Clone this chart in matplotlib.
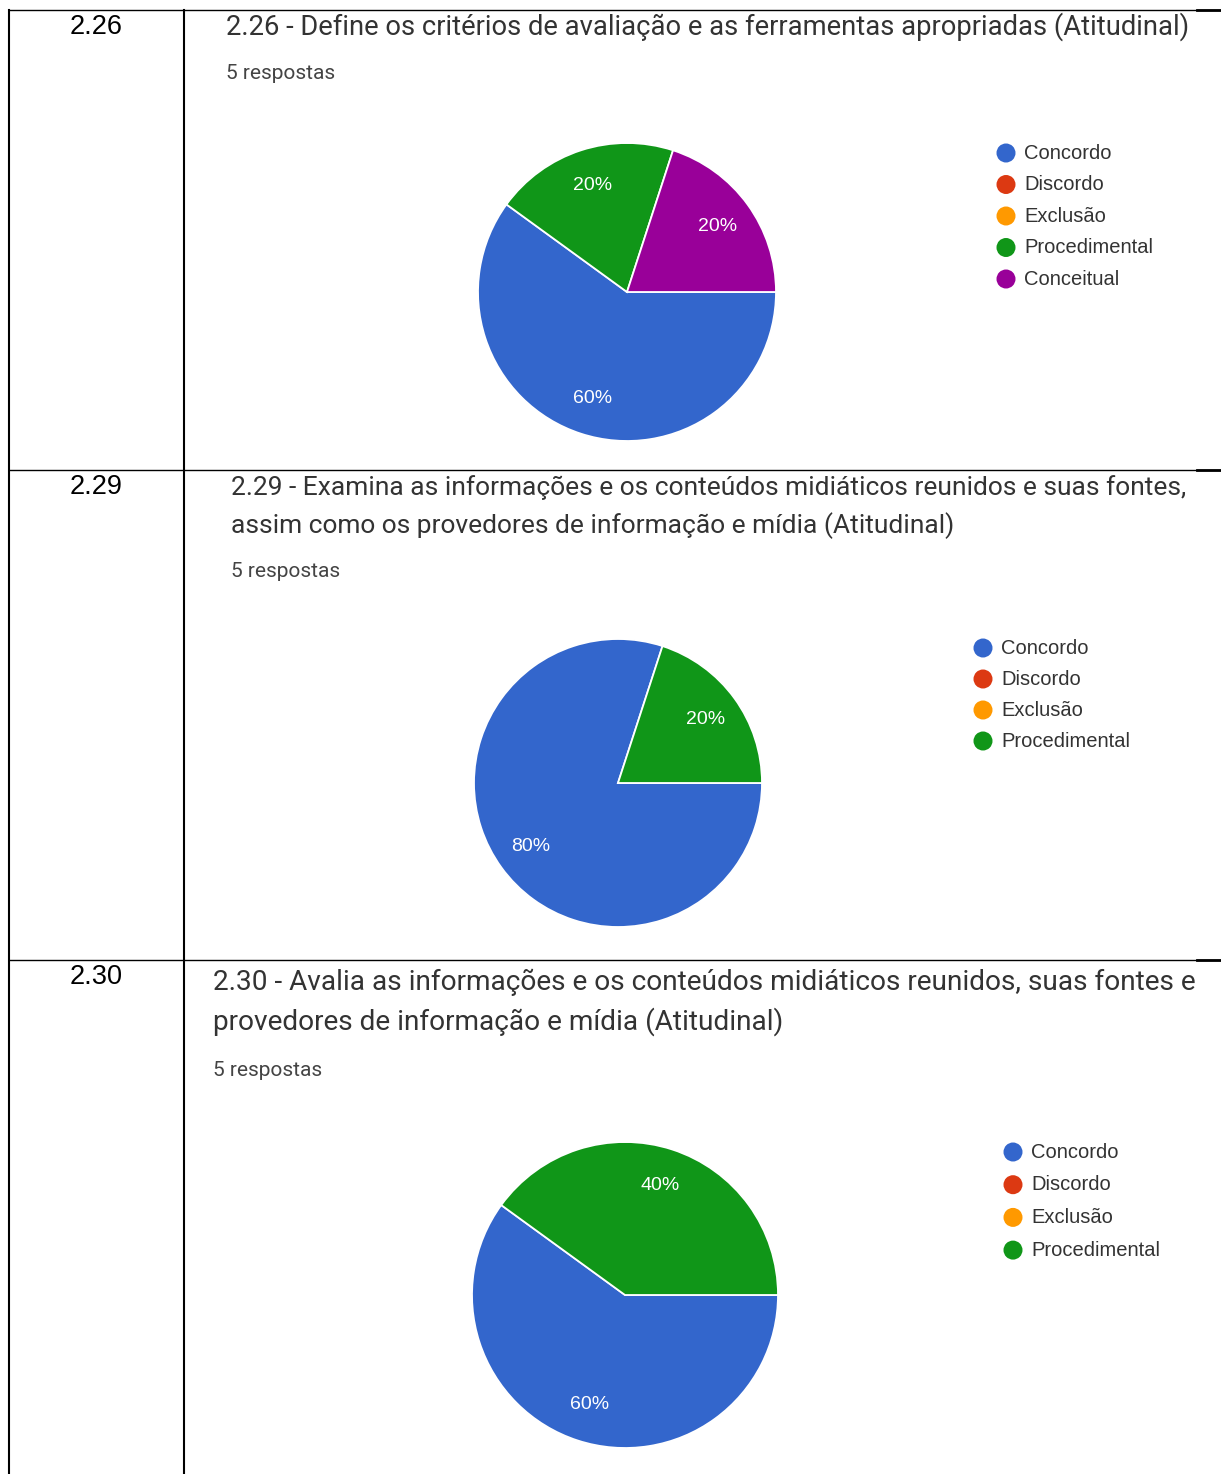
import matplotlib.pyplot as plt
from matplotlib.patches import Circle

W, H = 1221, 1474

categories = ["Concordo", "Discordo", "Exclusão", "Procedimental", "Conceitual"]
palette = ["#3366CC", "#DC3912", "#FF9900", "#109618", "#990099"]

codes = ["2.26", "2.29", "2.30"]
titles = [
    ["2.26 - Define os critérios de avaliação e as ferramentas apropriadas (Atitudinal)"],
    ["2.29 - Examina as informações e os conteúdos midiáticos reunidos e suas fontes,",
     "assim como os provedores de informação e mídia (Atitudinal)"],
    ["2.30 - Avalia as informações e os conteúdos midiáticos reunidos, suas fontes e",
     "provedores de informação e mídia (Atitudinal)"],
]
subtitle = "5 respostas"

# answer counts per question, in legend order
counts_226 = [3, 0, 0, 1, 1]
counts_229 = [4, 0, 0, 1]
counts_230 = [3, 0, 0, 2]
counts = [counts_226, counts_229, counts_230]

# layout of each row, in pixels
rows = [
    dict(top=10, tx=226, ty=[27], sy=73, size=19.7, cx=627, cy=292, r=149,
         lx=1006, ly=153, step=31.5),
    dict(top=470, tx=231, ty=[488, 526], sy=571, size=19.0, cx=618, cy=783, r=144,
         lx=983, ly=648, step=31),
    dict(top=960, tx=213, ty=[982, 1022], sy=1070, size=20.2, cx=625, cy=1295, r=153,
         lx=1013, ly=1152, step=32.7),
]

fig = plt.figure(figsize=(W / 100, H / 100), dpi=100)
bg = fig.add_axes([0, 0, 1, 1])
bg.set_xlim(0, W)
bg.set_ylim(H, 0)
bg.axis("off")

# table grid
x_left, x_mid = 9, 184
bg.plot([x_left, x_left], [10, H], color="black", lw=1.5)
bg.plot([x_mid, x_mid], [10, H], color="black", lw=1.5)
for row in rows:
    bg.plot([x_left, W], [row["top"], row["top"]], color="black", lw=1.0)
    bg.plot([1197, W], [row["top"], row["top"]], color="black", lw=2.0)

for code, title, vals, row in zip(codes, titles, counts, rows):
    bg.text(96, row["top"] + 17, code, ha="center", va="center",
            fontsize=19.5, family="Liberation Sans", color="black")
    for line, y in zip(title, row["ty"]):
        bg.text(row["tx"], y, line, ha="left", va="center",
                fontsize=row["size"], family="Roboto", color="#333333")
    bg.text(row["tx"], row["sy"], subtitle, ha="left", va="center",
            fontsize=15, family="Roboto", color="#444444")

    # legend
    for i, name in enumerate(categories[:len(vals)]):
        y = row["ly"] + i * row["step"]
        bg.add_patch(Circle((row["lx"], y), 9.5, color=palette[i], lw=0))
        bg.text(row["lx"] + 18, y, name, ha="left", va="center",
                fontsize=14.5, family="Liberation Sans", color="#333333")

    # pie, zero answers left out of the wedges
    shown = [(v, palette[i]) for i, v in enumerate(vals) if v > 0]
    r = row["r"]
    ax = fig.add_axes([(row["cx"] - r) / W, 1 - (row["cy"] + r) / H, 2 * r / W, 2 * r / H])
    ax.pie([v for v, _ in shown], colors=[c for _, c in shown],
           startangle=0, counterclock=False,
           autopct="%.0f%%", pctdistance=0.75,
           wedgeprops=dict(edgecolor="white", linewidth=1.3),
           textprops=dict(color="white", fontsize=14, family="Liberation Sans"))
    ax.set_xlim(-1.0, 1.0)
    ax.set_ylim(-1.0, 1.0)

fig.savefig("out.png", dpi=100)
